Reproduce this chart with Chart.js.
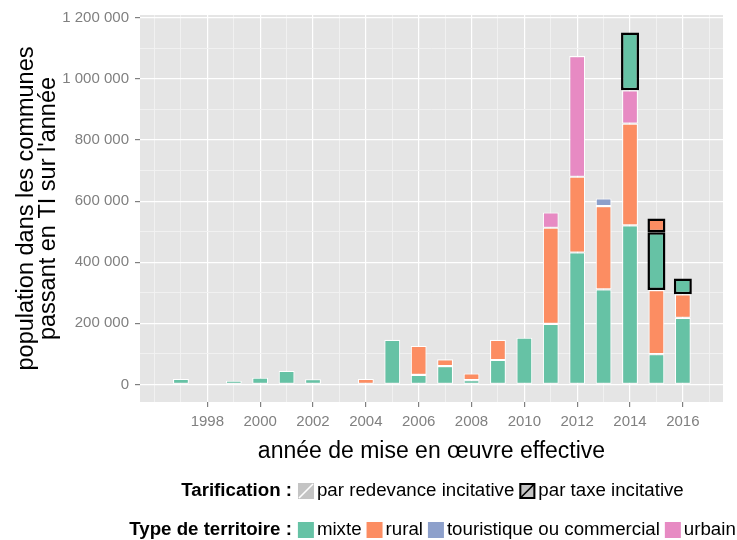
<!DOCTYPE html>
<html>
<head>
<meta charset="utf-8">
<script src="https://cdn.jsdelivr.net/npm/chart.js@4.4.1/dist/chart.umd.min.js"></script>
<style>
  html, body { margin: 0; padding: 0; background: #ffffff; }
  #wrap { position: relative; width: 737px; height: 540px; }
</style>
</head>
<body>
<div id="wrap"><canvas id="c" width="737" height="540"></canvas></div>
<script>
// ---------------- data ----------------
const years = [1997, 1999, 2000, 2001, 2002, 2004, 2005, 2006, 2007, 2008, 2009, 2010, 2011, 2012, 2013, 2014, 2015, 2016];

// Tarification : par redevance incitative
const redevanceMixte       = [18000, 12000, 22000, 44000, 17000, null, 146000, 31000, 60000, 14000, 80000, 153000, 198000, 432000, 311000, 521000, 99000, 218000];
const redevanceRural       = [null, null, null, null, null, 18000, null, 95000, 22000, 22000, 66000, null, 315000, 248000, 273000, 333000, 210000, 77000];
const redevanceTouristique = [null, null, null, null, null, null, null, null, null, null, null, null, null, null, 25000, null, null, null];
const redevanceUrbain      = [null, null, null, null, null, null, null, null, null, null, null, null, 50000, 395000, null, 109000, null, null];

// Tarification : par taxe incitative
const taxeMixte = [null, null, null, null, null, null, null, null, null, null, null, null, null, null, null, 189000, 189000, 52000];
const taxeRural = [null, null, null, null, null, null, null, null, null, null, null, null, null, null, null, null, 45000, null];

const xTickLabels = [1998, 2000, 2002, 2004, 2006, 2008, 2010, 2012, 2014, 2016];
const yTickLabels = [0, 200000, 400000, 600000, 800000, 1000000, 1200000];

const territoires = ['mixte', 'rural', 'touristique ou commercial', 'urbain'];
const tarifications = ['par redevance incitative', 'par taxe incitative'];

// ---------------- styles ----------------
const COL = { mixte: '#66C2A5', rural: '#FC8D62', touristique: '#8DA0CB', urbain: '#E78AC3' };
const FONT = "'Liberation Sans', Arial, Helvetica, sans-serif";
const GREY = '#808080';

function pts(arr) {
  return years.map((x, i) => ({ x: x, y: arr[i] })).filter(p => p.y !== null);
}
function redevance(label, arr, color) {
  return { label, data: pts(arr), backgroundColor: color, borderColor: '#FFFFFF', borderWidth: 1.1,
           borderSkipped: false, barPercentage: 0.6, categoryPercentage: 1 };
}
function taxe(label, arr, color) {
  return { label, data: pts(arr), backgroundColor: color, borderColor: '#000000', borderWidth: 2.5,
           borderSkipped: false, barPercentage: 0.68, categoryPercentage: 1 };
}

const datasets = [
  redevance('redevance mixte', redevanceMixte, COL.mixte),
  redevance('redevance rural', redevanceRural, COL.rural),
  redevance('redevance touristique', redevanceTouristique, COL.touristique),
  redevance('redevance urbain', redevanceUrbain, COL.urbain),
  taxe('taxe mixte', taxeMixte, COL.mixte),
  taxe('taxe rural', taxeRural, COL.rural)
];

function fmt(v) { return String(v).replace(/\B(?=(\d{3})+(?!\d))/g, ' '); }

const X_MIN = 1995.45, X_MAX = 2017.52;
const Y_MIN = -57600, Y_MAX = 1209600;

const panelBg = {
  id: 'panelBg',
  beforeDraw(chart) {
    const { ctx, chartArea: a } = chart;
    ctx.save();
    ctx.fillStyle = '#E5E5E5';
    ctx.fillRect(a.left, a.top, a.right - a.left, a.bottom - a.top);
    ctx.restore();
  }
};

const legendPlugin = {
  id: 'ggLegend',
  afterDraw(chart) {
    const { ctx, chartArea: a } = chart;
    const cx = (a.left + a.right) / 2 + 1;
    const SQ = 16;
    const boldFont = 'bold 18.7px ' + FONT;
    const normFont = '18.7px ' + FONT;

    function drawRow(y, title, items) {
      ctx.save();
      ctx.font = boldFont;
      const tw = ctx.measureText(title).width;
      ctx.font = normFont;
      let total = tw + 6;
      items.forEach((it, i) => {
        total += SQ + 3 + ctx.measureText(it.text).width + (i < items.length - 1 ? 5 : 0);
      });
      let x = cx - total / 2;
      ctx.textBaseline = 'middle';
      ctx.fillStyle = '#000000';
      ctx.font = boldFont;
      ctx.fillText(title, x, y);
      x += tw + 6;
      ctx.font = normFont;
      items.forEach(it => {
        it.draw(x, y - SQ / 2);
        x += SQ + 3;
        ctx.fillStyle = '#000000';
        ctx.fillText(it.text, x, y);
        x += ctx.measureText(it.text).width + 5;
      });
      ctx.restore();
    }

    function slashKey(stroke, border) {
      return (x, y) => {
        ctx.save();
        ctx.fillStyle = '#C4C4C4';
        ctx.fillRect(x, y, SQ, SQ);
        ctx.strokeStyle = stroke;
        ctx.lineWidth = 1.6;
        ctx.beginPath();
        ctx.moveTo(x + 1, y + SQ - 1);
        ctx.lineTo(x + SQ - 1, y + 1);
        ctx.stroke();
        if (border) {
          ctx.lineWidth = 2;
          ctx.strokeStyle = '#000000';
          ctx.strokeRect(x + 1, y + 1, SQ - 2, SQ - 2);
        }
        ctx.restore();
      };
    }
    function fillKey(color) {
      return (x, y) => {
        ctx.save();
        ctx.fillStyle = color;
        ctx.fillRect(x, y, SQ, SQ);
        ctx.restore();
      };
    }

    drawRow(491, 'Tarification :', [
      { text: tarifications[0], draw: slashKey('#FFFFFF', false) },
      { text: tarifications[1], draw: slashKey('#000000', true) }
    ]);
    drawRow(530, 'Type de territoire :', [
      { text: territoires[0], draw: fillKey(COL.mixte) },
      { text: territoires[1], draw: fillKey(COL.rural) },
      { text: territoires[2], draw: fillKey(COL.touristique) },
      { text: territoires[3], draw: fillKey(COL.urbain) }
    ]);
  }
};

function tickVal(c) { return c && c.tick ? c.tick.value : NaN; }
function isXMajor(v) { return xTickLabels.indexOf(v) !== -1; }
function isYMajor(v) { return yTickLabels.indexOf(v) !== -1; }

new Chart(document.getElementById('c'), {
  type: 'bar',
  data: { datasets },
  options: {
    responsive: false,
    animation: false,
    devicePixelRatio: 1,
    layout: { padding: { left: 0, top: 15, right: 14, bottom: 72 } },
    plugins: { legend: { display: false }, tooltip: { enabled: false } },
    scales: {
      x: {
        type: 'linear',
        stacked: true,
        offset: false,
        min: X_MIN,
        max: X_MAX,
        afterBuildTicks(scale) {
          const t = [];
          for (let v = 1996; v <= 2017; v++) t.push({ value: v });
          scale.ticks = t;
        },
        afterFit(scale) { scale.height = 66; },
        ticks: {
          autoSkip: false,
          maxRotation: 0,
          padding: 6,
          color: GREY,
          font: { family: FONT, size: 15 },
          callback: v => (isXMajor(v) ? String(v) : '')
        },
        grid: {
          offset: false,
          color: c => (isXMajor(tickVal(c)) ? '#FFFFFF' : '#F2F2F2'),
          lineWidth: c => (isXMajor(tickVal(c)) ? 1.2 : 0.9),
          tickColor: c => (isXMajor(tickVal(c)) ? GREY : 'rgba(0,0,0,0)'),
          tickLength: 5,
          drawTicks: true
        },
        border: { display: false },
        title: {
          display: true,
          text: 'année de mise en œuvre effective',
          color: '#000000',
          font: { family: FONT, size: 23 },
          padding: { top: 4, bottom: 3 }
        }
      },
      y: {
        stacked: true,
        min: Y_MIN,
        max: Y_MAX,
        afterBuildTicks(scale) {
          const t = [];
          for (let v = 0; v <= 1200000; v += 100000) t.push({ value: v });
          scale.ticks = t;
        },
        afterFit(scale) { scale.width = 140; },
        ticks: {
          autoSkip: false,
          padding: 6,
          color: GREY,
          font: { family: FONT, size: 15 },
          callback: v => (isYMajor(v) ? fmt(v) : '')
        },
        grid: {
          color: c => (isYMajor(tickVal(c)) ? '#FFFFFF' : '#F2F2F2'),
          lineWidth: c => (isYMajor(tickVal(c)) ? 1.2 : 0.9),
          tickColor: c => (isYMajor(tickVal(c)) ? GREY : 'rgba(0,0,0,0)'),
          tickLength: 5,
          drawTicks: true
        },
        border: { display: false },
        title: {
          display: true,
          text: ['population dans les communes', "passant en TI sur l'année"],
          color: '#000000',
          font: { family: FONT, size: 23.5, lineHeight: 0.92 },
          padding: { top: 16, bottom: 0 }
        }
      }
    }
  },
  plugins: [panelBg, legendPlugin]
});
</script>
</body>
</html>
